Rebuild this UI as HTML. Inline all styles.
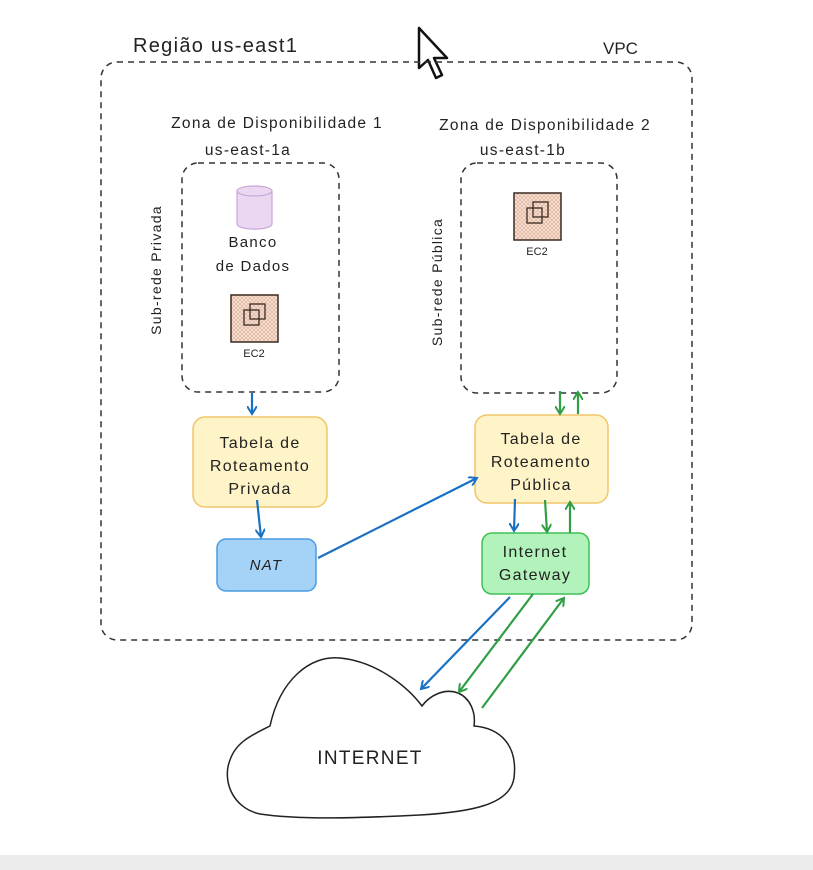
<!DOCTYPE html>
<html><head><meta charset="utf-8"><style>
html,body{margin:0;padding:0;background:#fff;}
svg{display:block;}
text{font-family:"Liberation Sans",sans-serif;fill:#222;}
.w{letter-spacing:1.3px;}
</style></head><body>
<svg width="813" height="870" viewBox="0 0 813 870" xmlns="http://www.w3.org/2000/svg">
<defs>
<pattern id="hatch" width="4" height="4" patternUnits="userSpaceOnUse">
<rect width="4" height="4" fill="#f7e2d6"/><path d="M0,0L4,4M4,0L0,4" stroke="#d9a98c" stroke-width="0.6"/>
</pattern>
<marker id="ab" markerWidth="10" markerHeight="10" refX="8" refY="5" orient="auto" markerUnits="userSpaceOnUse"><path d="M0,0L8,5L0,10" fill="none" stroke="#1971c2" stroke-width="2"/></marker>
<marker id="ag" markerWidth="10" markerHeight="10" refX="8" refY="5" orient="auto" markerUnits="userSpaceOnUse"><path d="M0,0L8,5L0,10" fill="none" stroke="#2f9e44" stroke-width="2"/></marker>
</defs>
<rect x="0" y="0" width="813" height="870" fill="#fff"/>
<rect x="0" y="855" width="813" height="15" fill="#ececec"/>

<text x="133" y="52" font-size="20" class="w">Região us-east1</text>
<text x="603" y="54" font-size="17">VPC</text>
<path d="M419,28 L419,68 L428,60 L436,78 L442,75 L434,58 L447,58 Z" fill="#fff" stroke="#111" stroke-width="2.5" stroke-linejoin="round"/>

<rect x="101" y="62" width="591" height="578" rx="16" fill="none" stroke="#333" stroke-width="1.5" stroke-dasharray="6 5"/>

<text x="277" y="128" font-size="15.5" text-anchor="middle" class="w">Zona de Disponibilidade 1</text>
<text x="248" y="155" font-size="15.5" text-anchor="middle" class="w">us-east-1a</text>
<text x="545" y="130" font-size="15.5" text-anchor="middle" class="w">Zona de Disponibilidade 2</text>
<text x="523" y="155" font-size="15.5" text-anchor="middle" class="w">us-east-1b</text>

<rect x="182" y="163" width="157" height="229" rx="16" fill="none" stroke="#333" stroke-width="1.5" stroke-dasharray="6 5"/>
<rect x="461" y="163" width="156" height="230" rx="16" fill="none" stroke="#333" stroke-width="1.5" stroke-dasharray="6 5"/>

<text transform="translate(161,270) rotate(-90)" font-size="14" text-anchor="middle" class="w">Sub-rede Privada</text>
<text transform="translate(442,282) rotate(-90)" font-size="14" text-anchor="middle" class="w">Sub-rede Pública</text>

<path d="M237,191 L237,224 A17,5 0 0 0 272,224 L272,191" fill="#ecd7f3" stroke="#c7a6d8" stroke-width="1.2"/>
<ellipse cx="254.5" cy="191" rx="17.5" ry="5" fill="#ecd7f3" stroke="#c7a6d8" stroke-width="1.2"/>
<text x="253" y="247" font-size="15" text-anchor="middle" class="w">Banco</text>
<text x="253" y="271" font-size="15" text-anchor="middle" class="w">de Dados</text>

<g>
<rect x="231" y="295" width="47" height="47" fill="url(#hatch)" stroke="#3a2a22" stroke-width="1.5"/>
<rect x="244" y="310" width="15" height="15" fill="none" stroke="#3a2a22" stroke-width="1.3"/>
<rect x="250" y="304" width="15" height="15" fill="none" stroke="#3a2a22" stroke-width="1.3"/>
<text x="254" y="357" font-size="11" text-anchor="middle">EC2</text>
</g>
<g>
<rect x="514" y="193" width="47" height="47" fill="url(#hatch)" stroke="#3a2a22" stroke-width="1.5"/>
<rect x="527" y="208" width="15" height="15" fill="none" stroke="#3a2a22" stroke-width="1.3"/>
<rect x="533" y="202" width="15" height="15" fill="none" stroke="#3a2a22" stroke-width="1.3"/>
<text x="537" y="255" font-size="11" text-anchor="middle">EC2</text>
</g>

<rect x="193" y="417" width="134" height="90" rx="12" fill="#fff3c8" stroke="#f0c66a" stroke-width="1.5"/>
<text x="260" y="448" font-size="16" text-anchor="middle" class="w">Tabela de</text>
<text x="260" y="471" font-size="16" text-anchor="middle" class="w">Roteamento</text>
<text x="260" y="494" font-size="16" text-anchor="middle" class="w">Privada</text>

<rect x="475" y="415" width="133" height="88" rx="12" fill="#fff3c8" stroke="#f0c66a" stroke-width="1.5"/>
<text x="541" y="444" font-size="16" text-anchor="middle" class="w">Tabela de</text>
<text x="541" y="467" font-size="16" text-anchor="middle" class="w">Roteamento</text>
<text x="541" y="490" font-size="16" text-anchor="middle" class="w">Pública</text>

<rect x="217" y="539" width="99" height="52" rx="9" fill="#a5d3f7" stroke="#4a9be0" stroke-width="1.5"/>
<text x="266" y="570" font-size="15" text-anchor="middle" font-style="italic" class="w">NAT</text>

<rect x="482" y="533" width="107" height="61" rx="10" fill="#b2f2bb" stroke="#40c057" stroke-width="1.5"/>
<text x="535" y="557" font-size="16" text-anchor="middle" class="w">Internet</text>
<text x="535" y="580" font-size="16" text-anchor="middle" class="w">Gateway</text>

<path d="M270,726 C280,680 310,655 340,658 C380,662 410,690 422,706 C430,695 445,688 458,693 C470,698 476,712 474,726 C500,728 518,745 514,778 C510,805 470,812 420,815 C360,818 300,820 260,814 C232,808 222,780 230,760 C236,742 252,735 270,726 Z" fill="#fff" stroke="#222" stroke-width="1.5"/>
<text x="370" y="764" font-size="19" text-anchor="middle" class="w">INTERNET</text>

<g stroke="#1971c2" stroke-width="2.2" fill="none">
<line x1="252" y1="393" x2="252" y2="414" marker-end="url(#ab)"/>
<line x1="257" y1="500" x2="261" y2="537" marker-end="url(#ab)"/>
<line x1="318" y1="558" x2="477" y2="478" marker-end="url(#ab)"/>
<line x1="515" y1="499" x2="514" y2="531" marker-end="url(#ab)"/>
<line x1="510" y1="597" x2="421" y2="689" marker-end="url(#ab)"/>
</g>
<g stroke="#2f9e44" stroke-width="2.2" fill="none">
<line x1="560" y1="391" x2="560" y2="414" marker-end="url(#ag)"/>
<line x1="578" y1="414" x2="578" y2="392" marker-end="url(#ag)"/>
<line x1="545" y1="500" x2="547" y2="532" marker-end="url(#ag)"/>
<line x1="570" y1="533" x2="570" y2="502" marker-end="url(#ag)"/>
<line x1="533" y1="594" x2="459" y2="692" marker-end="url(#ag)"/>
<line x1="482" y1="708" x2="564" y2="598" marker-end="url(#ag)"/>
</g>
</svg>
</body></html>
